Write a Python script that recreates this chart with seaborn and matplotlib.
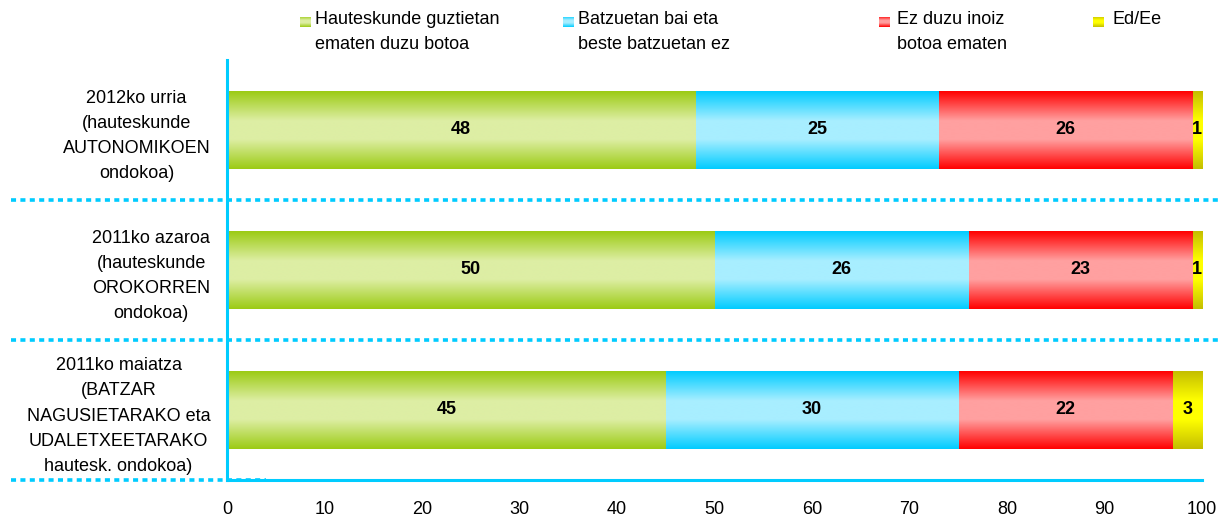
import numpy as np
import matplotlib
matplotlib.use("Agg")
import matplotlib.pyplot as plt
from matplotlib.colors import LinearSegmentedColormap
import seaborn as sns

# data
periods = ["2012ko urria\n(hauteskunde\nAUTONOMIKOEN\nondokoa)",
           "2011ko azaroa\n(hauteskunde\nOROKORREN\nondokoa)",
           "2011ko maiatza\n(BATZAR\nNAGUSIETARAKO eta\nUDALETXEETARAKO\nhautesk. ondokoa)"]
series_names = ["Hauteskunde guztietan\nematen duzu botoa",
                "Batzuetan bai eta\nbeste batzuetan ez",
                "Ez duzu inoiz\nbotoa ematen",
                "Ed/Ee"]
always = [48, 50, 45]
sometimes = [25, 26, 30]
never = [26, 23, 22]
dk = [1, 1, 3]
ticks = [0, 10, 20, 30, 40, 50, 60, 70, 80, 90, 100]

# edge colour / middle colour of the gradient fills
edge_cols = ["#9CCB14", "#00CCFF", "#FF0000", "#C4BE00"]
mid_cols = ["#DDEEA4", "#A8EEFF", "#FFA0A0", "#FFFF00"]
line_col = "#00CCFF"

sns.set_style("white")
plt.rcParams["font.family"] = ["Liberation Sans", "DejaVu Sans"]
plt.rcParams["text.color"] = "black"
plt.rcParams["xtick.labelcolor"] = "black"
plt.rcParams["ytick.labelcolor"] = "black"

fig = plt.figure(figsize=(12.32, 5.22), dpi=100)
ax = fig.add_axes([0.1843, 0.0805, 0.7914, 0.8046])

values = [always, sometimes, never, dk]
cums = np.cumsum(np.array(values), axis=0)

def grad_cmap(i):
    return LinearSegmentedColormap.from_list(
        "g%d" % i, [(0, edge_cols[i]), (0.38, mid_cols[i]),
                    (0.62, mid_cols[i]), (1, edge_cols[i])])

grad = np.linspace(0, 1, 256).reshape(-1, 1)

# overlapping cumulative bars, drawn from the largest total down
z = 2
for i in [3, 2, 1, 0]:
    n_before = len(ax.patches)
    sns.barplot(x=cums[i], y=periods, orient="h", color=edge_cols[i],
                width=0.557, ax=ax)
    cmap = grad_cmap(i)
    for p in ax.patches[n_before:]:
        x0, y0 = p.get_x(), p.get_y()
        w, h = p.get_width(), p.get_height()
        ax.imshow(grad, extent=[x0, x0 + w, y0 + h, y0], cmap=cmap,
                  aspect="auto", zorder=z, interpolation="bilinear")
        p.set_visible(False)
        z += 1

# value labels
for i in range(4):
    for r in range(len(periods)):
        left = cums[i][r] - values[i][r]
        ax.text(left + values[i][r] / 2, r, str(values[i][r]), ha="center",
                va="center", fontsize=13, fontweight="bold", color="black",
                zorder=50)

ax.set_xlim(0, 100)
ax.set_ylim(2.5, -0.5)
ax.set_xticks(ticks)
ax.set_xticklabels([str(t) for t in ticks], fontsize=13)
ax.set_yticks(range(len(periods)))
ax.set_yticklabels(periods, fontsize=13, multialignment="center",
                   linespacing=1.62, va="center_baseline")
ax.set_yticks([-0.5, 0.5, 1.5, 2.5], minor=True)
ax.tick_params(axis="y", which="major", length=0, pad=12)
ax.tick_params(axis="y", which="minor", length=5, width=2.2, color=line_col,
               direction="out")
ax.tick_params(axis="x", length=6, width=2.2, color=line_col,
               direction="out", pad=9)
ax.set_xlabel("")
ax.set_ylabel("")

for s in ["top", "right"]:
    ax.spines[s].set_visible(False)
for s in ["left", "bottom"]:
    ax.spines[s].set_color(line_col)
    ax.spines[s].set_linewidth(2.2)
    ax.spines[s].set_zorder(60)

# dotted separators between the groups
trans = ax.get_yaxis_transform()
for yv in [0.5, 1.5]:
    ax.plot([-0.222, 1.018], [yv, yv], transform=trans, color=line_col,
            lw=2.6, ls=(0, (1.4, 1.2)), clip_on=False, zorder=55)
ax.plot([-0.222, 0.04], [2.5, 2.5], transform=trans, color=line_col,
        lw=2.6, ls=(0, (1.4, 1.2)), clip_on=False, zorder=55)

# legend: gradient squares + two-line texts
sq_left = [300, 563, 879, 1093]
txt_left = [315, 578, 897, 1112]
W, H = 1232, 522
for i in range(4):
    lax = fig.add_axes([sq_left[i] / W, 1 - 27 / H, 11 / W, 10 / H])
    lax.imshow(grad, cmap=grad_cmap(i), aspect="auto",
               interpolation="bilinear")
    lax.set_axis_off()
    fig.text(txt_left[i] / W, 1 - 11 / H, series_names[i], fontsize=13,
             ha="left", va="top", linespacing=1.62)

fig.savefig("out.png", dpi=100)
